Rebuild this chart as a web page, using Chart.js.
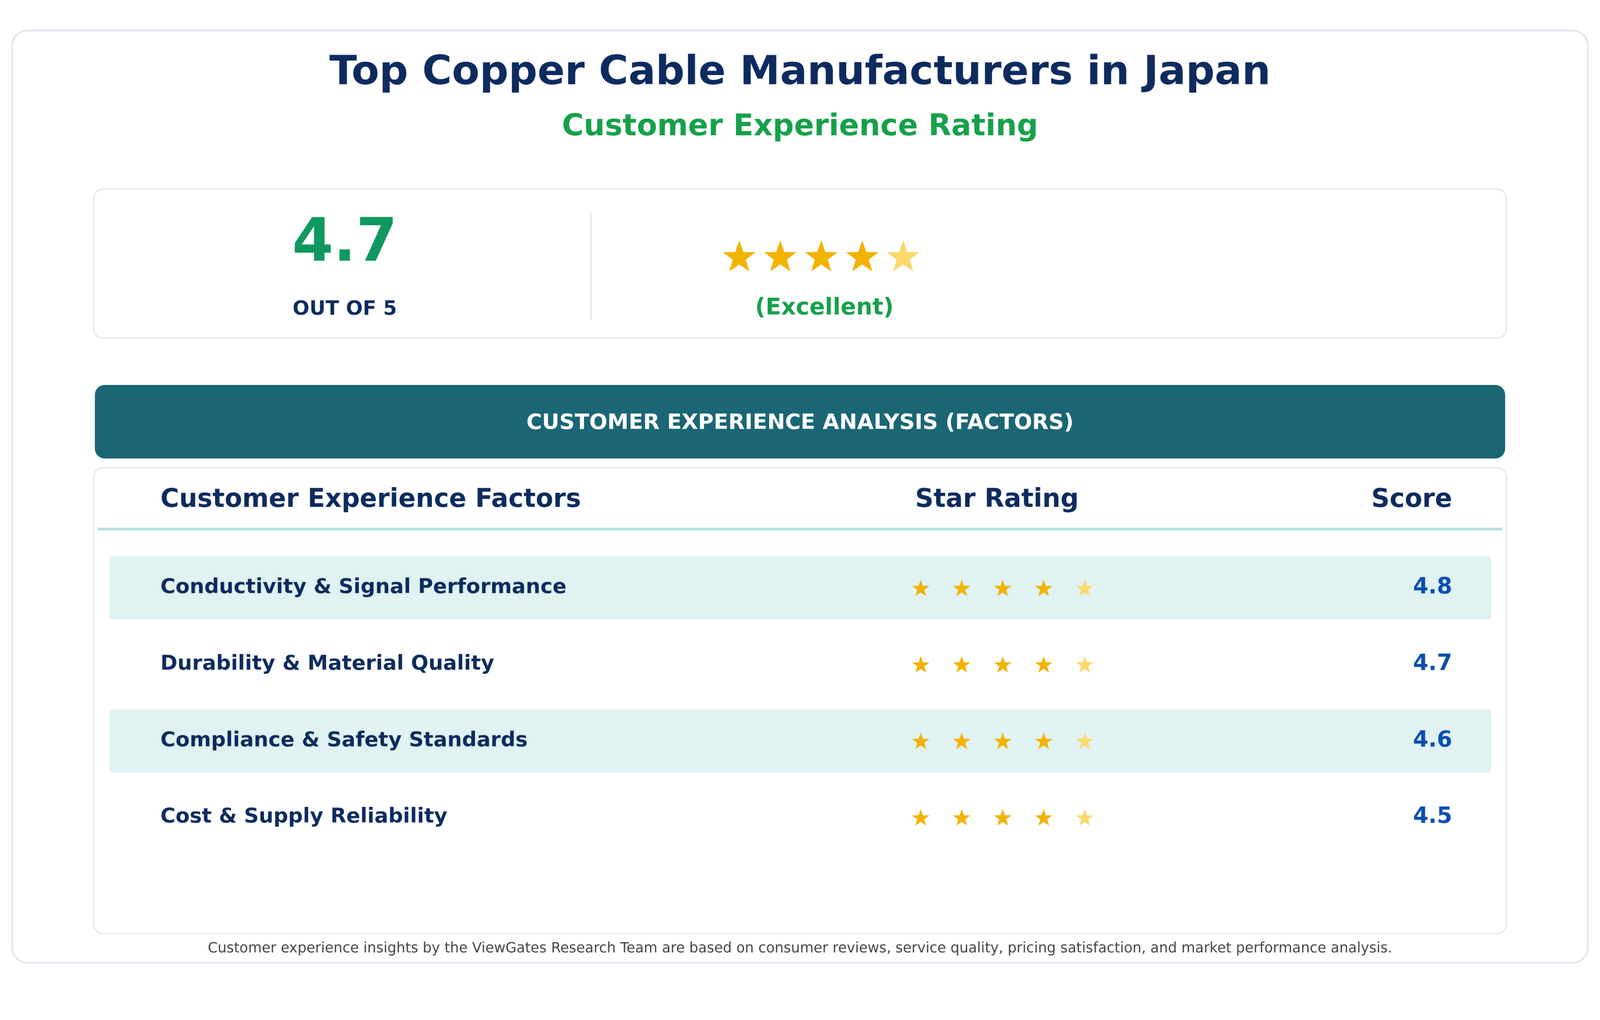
<!DOCTYPE html>
<html>
<head>
<meta charset="utf-8">
<script src="https://cdn.jsdelivr.net/npm/chart.js@4.4.1/dist/chart.umd.min.js"></script>
<style>
  html, body { margin: 0; padding: 0; background: #ffffff; overflow: hidden; }
  #wrap { width: 4200px; height: 2610px; transform-origin: 0 0; }
  canvas { display: block; }
</style>
</head>
<body>
<div id="wrap"><canvas id="chart" width="4200" height="2610" style="width:4200px;height:2610px"></canvas></div>
<script>
var factors = [
  "Conductivity & Signal Performance",
  "Durability & Material Quality",
  "Compliance & Safety Standards",
  "Cost & Supply Reliability"
];
var scores = [4.8, 4.7, 4.6, 4.5];
var overallScore = 4.7;
var overallLabel = "(Excellent)";
var maxStars = 5;

var NAVY = "#0d2b5e";
var GREEN = "#17a04a";
var GOLD = "#f2b200";
var PALE = "#fdd86a";
var FONT = "'DejaVu Sans', sans-serif";

function starImage(r, color) {
  var c = document.createElement("canvas");
  c.width = c.height = Math.ceil(r * 2 + 4);
  var g = c.getContext("2d");
  var cx = c.width / 2, cy = c.height / 2 + r * 0.1;
  g.fillStyle = color;
  g.beginPath();
  for (var i = 0; i < 10; i++) {
    var rad = i % 2 === 0 ? r : r * 0.4;
    var a = -Math.PI / 2 + i * Math.PI / 5;
    g.lineTo(cx + rad * Math.cos(a), cy + rad * Math.sin(a));
  }
  g.closePath();
  g.fill();
  return c;
}

var bigFull = starImage(45, GOLD), bigPale = starImage(45, PALE);
var smFull = starImage(24, GOLD), smPale = starImage(24, PALE);

// scale: x unit = one star step (110px), y unit = one table row (208px)
var xMin = 1 - 2424 / 110, xMax = xMin + 4200 / 110;
var yMin = -1551 / 208, yMax = yMin + 2610 / 208;
var topRowY = (648 - 1551) / 208;
var topStarX = 1 + (1937 - 2424) / 110;

var rowPoints = [], rowStyles = [];
factors.forEach(function (f, r) {
  for (var s = 0; s < maxStars; s++) {
    rowPoints.push({ x: 1 + s, y: r });
    rowStyles.push(s < Math.floor(scores[r]) ? smFull : smPale);
  }
});
var topPoints = [], topStyles = [];
for (var s = 0; s < maxStars; s++) {
  topPoints.push({ x: topStarX + s, y: topRowY });
  topStyles.push(s < Math.floor(overallScore) ? bigFull : bigPale);
}

function rrect(ctx, x, y, w, h, r) {
  ctx.beginPath();
  ctx.moveTo(x + r, y);
  ctx.arcTo(x + w, y, x + w, y + h, r);
  ctx.arcTo(x + w, y + h, x, y + h, r);
  ctx.arcTo(x, y + h, x, y, r);
  ctx.arcTo(x, y, x + w, y, r);
  ctx.closePath();
}

function text(ctx, s, x, y, size, color, align, weight) {
  ctx.font = (weight || "bold") + " " + size + "px " + FONT;
  ctx.fillStyle = color;
  ctx.textAlign = align || "center";
  ctx.textBaseline = "middle";
  ctx.fillText(s, x, y);
}

var layoutPlugin = {
  id: "layout",
  beforeDatasetsDraw: function (chart) {
    var ctx = chart.ctx, ys = chart.scales.y;
    ctx.save();
    ctx.fillStyle = "#ffffff";
    ctx.fillRect(0, 0, 4200, 2610);
    ctx.lineWidth = 4;
    ctx.strokeStyle = "#dde4ef";
    rrect(ctx, 32, 80, 4136, 2446, 40); ctx.stroke();
    ctx.lineWidth = 3;
    rrect(ctx, 246, 496, 3708, 391, 24); ctx.stroke();
    ctx.strokeStyle = "#e2e8f0"; ctx.lineWidth = 4;
    ctx.beginPath(); ctx.moveTo(1551, 557); ctx.lineTo(1551, 839); ctx.stroke();
    ctx.fillStyle = "#1b6674";
    rrect(ctx, 249, 1010, 3702, 193, 26); ctx.fill();
    ctx.strokeStyle = "#dde4ef"; ctx.lineWidth = 3;
    rrect(ctx, 246, 1227, 3708, 1222, 24); ctx.stroke();
    ctx.strokeStyle = "#b5dfe0"; ctx.lineWidth = 7;
    ctx.beginPath(); ctx.moveTo(257, 1388); ctx.lineTo(3943, 1388); ctx.stroke();
    factors.forEach(function (f, r) {
      if (r % 2 === 0) {
        var cy = ys.getPixelForValue(r);
        ctx.fillStyle = "#e0f2f1";
        rrect(ctx, 287, cy - 83, 3627, 166, 8); ctx.fill();
      }
    });
    ctx.restore();
  },
  afterDatasetsDraw: function (chart) {
    var ctx = chart.ctx, ys = chart.scales.y;
    ctx.save();
    text(ctx, "Top Copper Cable Manufacturers in Japan", 2100, 193, 106, NAVY);
    text(ctx, "Customer Experience Rating", 2100, 335, 78, GREEN);
    text(ctx, overallScore.toFixed(1), 905, 643, 156, "#0f9960");
    text(ctx, "OUT OF " + maxStars, 905, 812, 52, NAVY);
    text(ctx, overallLabel, 2164, 809, 60, GREEN);
    text(ctx, "CUSTOMER EXPERIENCE ANALYSIS (FACTORS)", 2100, 1110, 56, "#ffffff");
    text(ctx, "Customer Experience Factors", 421, 1313, 67, NAVY, "left");
    text(ctx, "Star Rating", 2617, 1313, 67, NAVY);
    text(ctx, "Score", 3812, 1313, 67, NAVY, "right");
    factors.forEach(function (f, r) {
      var cy = ys.getPixelForValue(r);
      text(ctx, f, 421, cy, 54, NAVY, "left");
      text(ctx, scores[r].toFixed(1), 3812, cy, 58, "#0a4fb0", "right");
    });
    text(ctx, "Customer experience insights by the ViewGates Research Team are based on consumer reviews, service quality, pricing satisfaction, and market performance analysis.", 2100, 2489, 37, "#444444", "center", "normal");
    ctx.restore();
  }
};

new Chart(document.getElementById("chart"), {
  type: "scatter",
  data: {
    datasets: [
      { data: rowPoints, pointStyle: rowStyles, pointRadius: 24 },
      { data: topPoints, pointStyle: topStyles, pointRadius: 45 }
    ]
  },
  options: {
    responsive: false,
    devicePixelRatio: 1,
    animation: false,
    layout: { padding: 0 },
    plugins: { legend: { display: false }, tooltip: { enabled: false } },
    scales: {
      x: { type: "linear", min: xMin, max: xMax, display: false },
      y: { type: "linear", min: yMin, max: yMax, reverse: true, display: false }
    }
  },
  plugins: [layoutPlugin]
});

var k = Math.min(window.innerWidth / 4200, window.innerHeight / 2610);
if (k > 0 && k < 1) document.getElementById("wrap").style.transform = "scale(" + k + ")";
</script>
</body>
</html>
